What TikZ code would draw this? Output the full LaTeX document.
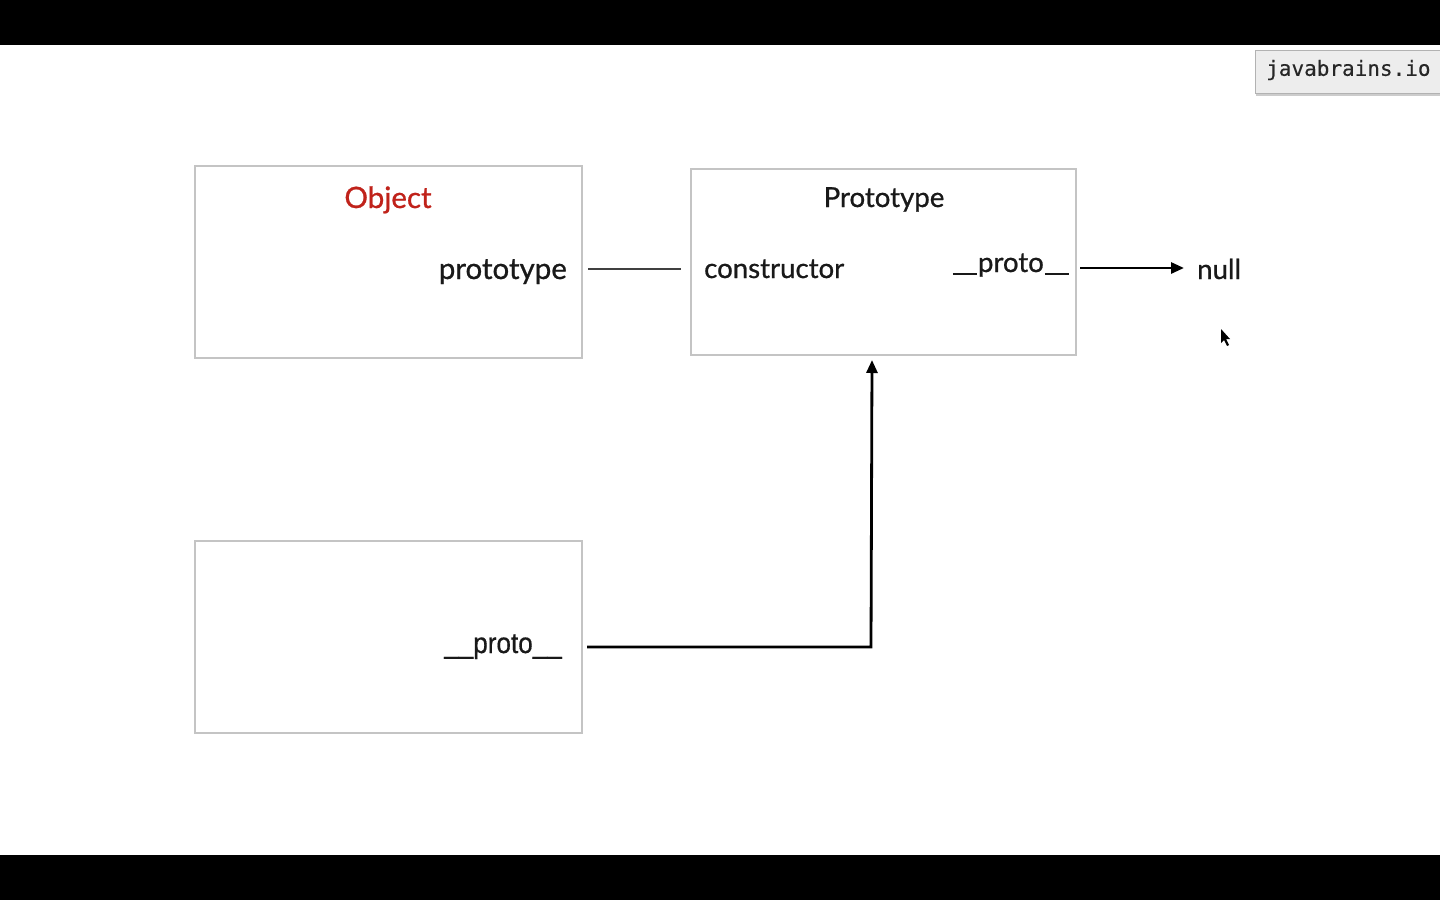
\documentclass[tikz,border=0pt]{standalone}
\usepackage{fontspec}
\setmainfont{Lato}
\newfontfamily\medfont[FakeBold=0.8]{Lato}
\newfontfamily\monofont[FakeBold=0.3]{DejaVu Sans Mono}
\newfontfamily\narrowfont[FakeStretch=0.9,FakeBold=0.5]{Liberation Sans}
\usetikzlibrary{arrows.meta,shadows}
\definecolor{boxgray}{HTML}{C4C4C4}
\definecolor{objred}{HTML}{C0221A}
\definecolor{tagfill}{HTML}{EDEDED}
\newcommand{\uline}{\rule[-3pt]{24pt}{1.8pt}}
\tikzset{
  objbox/.style={draw=boxgray, line width=2pt},
  biglbl/.style={inner sep=0pt, font=\medfont\fontsize{29.5}{34}\selectfont, text=black!90},
  lbl/.style={inner sep=0pt, font=\medfont\fontsize{27.6}{32}\selectfont, text=black!90},
  link/.style={line width=2.8pt, -{Triangle[length=13pt,width=11pt]}},
}
\begin{document}
\begin{tikzpicture}[x=1pt,y=-1pt]
\useasboundingbox (0,0) rectangle (1440,900);
\fill[white] (0,0) rectangle (1440,900);
\fill[black] (0,0) rectangle (1440,45);
\fill[black] (0,855) rectangle (1440,900);
% tag
\node[draw=gray!60, fill=tagfill, drop shadow={shadow xshift=1pt, shadow yshift=-3pt, opacity=0.4},
      minimum width=190pt, minimum height=43pt, anchor=north west, inner sep=0pt] (tag) at (1255,50) {};
\node[font=\monofont\fontsize{21}{24}\selectfont, anchor=west, inner sep=0pt, text=black!85] (tagtxt) at (1266,70) {javabrains.io};
% boxes
\draw[objbox] (195,166) rectangle (582,358);
\draw[objbox] (691,169) rectangle (1076,355);
\draw[objbox] (195,541) rectangle (582,733);
% labels
\node[biglbl, text=objred, anchor=base] (objtitle) at (388,208) {Object};
\node[biglbl, anchor=base east] (protoprop) at (567,279) {prototype};
\node[lbl, anchor=base] (prototitle) at (884,207) {Prototype};
\node[lbl, anchor=base west] (ctor) at (704,278) {constructor};
\node[lbl, anchor=base east] (pproto) at (1069,272) {\uline\kern1pt proto\kern1pt\uline};
\node[lbl, anchor=base west] (null) at (1197,279) {null};
\node[inner sep=0pt, anchor=base east, text=black!90, font=\narrowfont\fontsize{29}{34}\selectfont] (iproto) at (562,653) {\_\_proto\_\_};
% connectors
\coordinate (c1) at (588,269);
\coordinate (c2) at (681,269);
\draw[line width=1.6pt, black!75] (c1) -- (c2);
\coordinate (a1) at (1080,268);
\coordinate (a2) at (1184,268);
\draw[link] (a1) -- (a2);
\coordinate (b1) at (587,647);
\coordinate (b2) at (871,647);
\coordinate (b3) at (872,360);
\draw[link] (b1) -- (b2) -- (b3);
% cursor
\fill[black] (1221,329) -- (1221,343) -- (1224,340) -- (1227,346) -- (1229,345) -- (1226,339) -- (1230,339) -- cycle;
\end{tikzpicture}
\end{document}
